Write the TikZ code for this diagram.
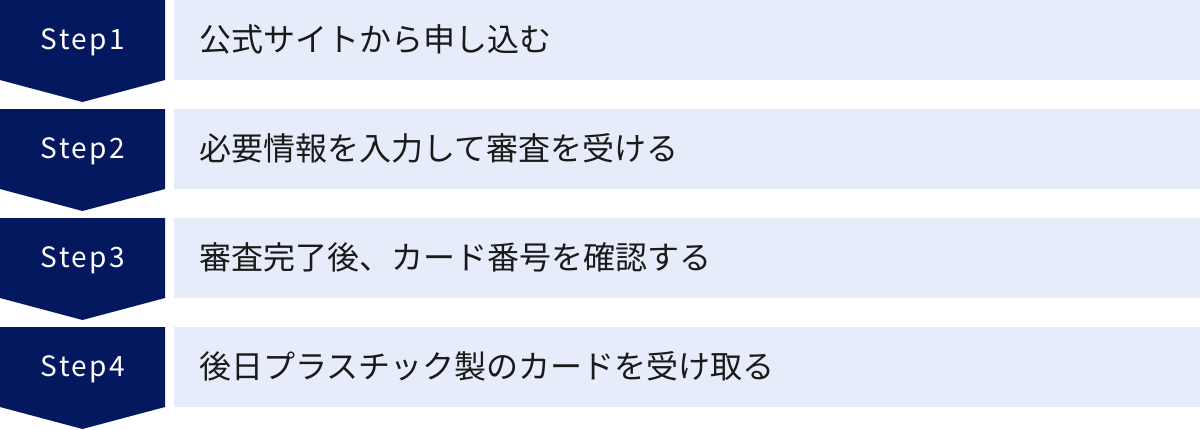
\documentclass[tikz,border=0pt]{standalone}
\usepackage{fontspec}
\setmainfont{Noto Sans CJK JP}
\newfontfamily\labelfont[LetterSpace=9]{Noto Sans CJK JP}
\newfontfamily\jpfont{Noto Sans CJK JP}
\definecolor{navy}{HTML}{041860}
\definecolor{lightbox}{HTML}{E6ECF9}
\definecolor{txt}{HTML}{1A1A1A}
\tikzset{
  stepshape/.style={fill=navy},
  descbox/.style={fill=lightbox, draw=none, minimum width=1026pt, minimum height=80pt, inner sep=0pt, outer sep=0pt},
  steplabel/.style={text=white, anchor=base, font=\labelfont\fontsize{28}{32}\selectfont, inner sep=0pt},
  desc/.style={text=txt, anchor=base west, inner sep=0pt, font=\jpfont\fontsize{32}{38}\selectfont}
}
\begin{document}
\begin{tikzpicture}[x=1pt,y=-1pt]
\useasboundingbox (0,0) rectangle (1200,429);
\foreach \i in {0,1,2,3}{
  \pgfmathsetmacro{\yo}{109*\i}
  \fill[stepshape] (0,\yo) -- (165,\yo) -- (165,\yo+80) -- (82.5,\yo+102) -- (0,\yo+80) -- cycle;
}
\node[descbox] (b1) at (687,40) {};
\node[descbox] (b2) at (687,149) {};
\node[descbox] (b3) at (687,258) {};
\node[descbox] (b4) at (687,367) {};
\node[steplabel] (s1) at (83,49.5) {Step1};
\node[steplabel] (s2) at (83,158.5) {Step2};
\node[steplabel] (s3) at (83,267.5) {Step3};
\node[steplabel] (s4) at (83,376.5) {Step4};
\node[desc] (t1) at (199,51) {公式サイトから申し込む};
\node[desc] (t2) at (199,160) {必要情報を入力して審査を受ける};
\node[desc] (t3) at (199,269) {審査完了後、カード番号を確認する};
\node[desc] (t4) at (199,378) {後日プラスチック製のカードを受け取る};
\end{tikzpicture}
\end{document}
